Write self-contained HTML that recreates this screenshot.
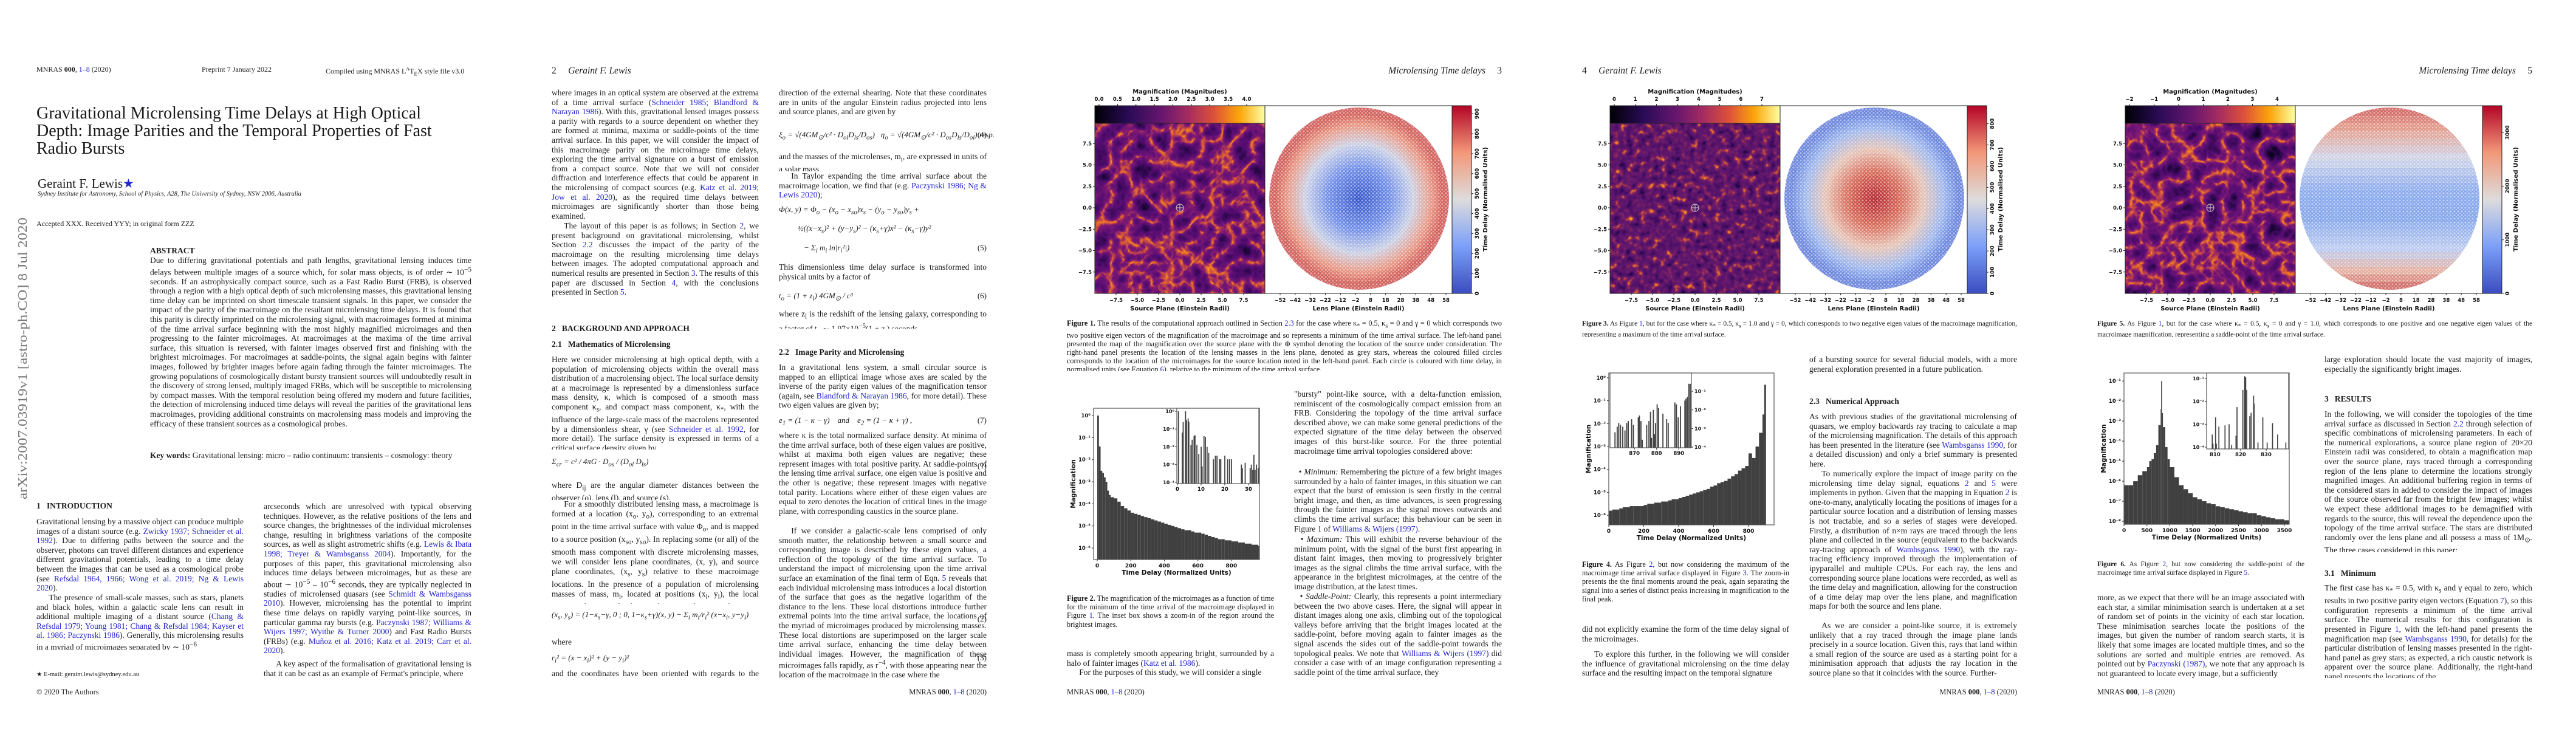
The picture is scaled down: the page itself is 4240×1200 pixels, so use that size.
<!DOCTYPE html>
<html><head><meta charset="utf-8">
<style>
html,body{margin:0;padding:0;background:#fff;}
body{width:4240px;height:1200px;position:relative;overflow:hidden;font-family:"Liberation Serif",serif;color:#1a1a1a;}
.page{position:absolute;top:0;width:848px;height:1200px;}
.t{position:absolute;font-size:13.5px;line-height:15.6px;text-align:justify;overflow:hidden;hyphens:auto;}
.cap{position:absolute;font-size:12.2px;line-height:14.2px;text-align:justify;overflow:hidden;}
.cap2{font-size:11.4px;}
.h{position:absolute;font-size:13.5px;line-height:16px;white-space:nowrap;}
.eq{position:absolute;font-size:13px;line-height:16px;white-space:nowrap;font-style:italic;}
.num{position:absolute;right:72px;font-size:13px;}
.hd{position:absolute;top:108px;font-size:15.5px;font-style:italic;white-space:nowrap;}
.ft{position:absolute;top:1132px;font-size:12.5px;white-space:nowrap;}
.ind{text-indent:1.5em;}
a,.l{color:#2323d0;text-decoration:none;}
svg.ov{position:absolute;left:0;top:0;width:848px;height:1200px;}
svg text{font-family:"DejaVu Sans",sans-serif;font-weight:bold;}
</style></head>
<body>

<!-- PAGE 1 -->
<div class="page" style="left:0">
 <svg style="position:absolute;left:0;top:0" width="60" height="900">
  <text x="0" y="0" transform="translate(44,822) rotate(-90)" textLength="464" lengthAdjust="spacingAndGlyphs" style="font-family:'Liberation Serif',serif;font-weight:normal;font-size:21px;fill:#777">arXiv:2007.03919v1  [astro-ph.CO]  8 Jul 2020</text>
 </svg>
 <div class="h" style="top:106px;left:60px;font-size:12px">MNRAS <b>000</b>, <span class="l">1–8</span> (2020)</div>
 <div class="h" style="top:106px;left:332px;font-size:12px">Preprint 7 January 2022</div>
 <div class="h" style="top:106px;left:536px;font-size:12px">Compiled using MNRAS L<sup style="font-size:8px">A</sup>T<sub style="font-size:9px">E</sub>X style file v3.0</div>
 <div style="position:absolute;top:172px;left:60px;width:760px;font-size:28px;line-height:29px;white-space:nowrap">Gravitational Microlensing Time Delays at High Optical<br>Depth: Image Parities and the Temporal Properties of Fast<br>Radio Bursts</div>
 <div class="h" style="top:290px;left:62px;font-size:21px;line-height:24px">Geraint F. Lewis<span style="color:#2323d0">★</span></div>
 <div class="h" style="top:312px;left:62px;font-size:10.5px;font-style:italic">Sydney Institute for Astronomy, School of Physics, A28, The University of Sydney, NSW 2006, Australia</div>
 <div class="h" style="top:360px;left:60px;font-size:12px">Accepted XXX. Received YYY; in original form ZZZ</div>
 <div class="h" style="top:405px;left:247px;font-weight:bold">ABSTRACT</div>
 <div class="t" style="top:421px;left:247px;width:529px;height:312px">Due to differing gravitational potentials and path lengths, gravitational lensing induces time delays between multiple images of a source which, for solar mass objects, is of order ∼ 10<sup>−5</sup> seconds. If an astrophysically compact source, such as a Fast Radio Burst (FRB), is observed through a region with a high optical depth of such microlensing masses, this gravitational lensing time delay can be imprinted on short timescale transient signals. In this paper, we consider the impact of the parity of the macroimage on the resultant microlensing time delays. It is found that this parity is directly imprinted on the microlensing signal, with macroimages formed at minima of the time arrival surface beginning with the most highly magnified microimages and then progressing to the fainter microimages. At macroimages at the maxima of the time arrival surface, this situation is reversed, with fainter images observed first and finishing with the brightest microimages. For macroimages at saddle-points, the signal again begins with fainter images, followed by brighter images before again fading through the fainter microimages. The growing populations of cosmologically distant bursty transient sources will undoubtedly result in the discovery of strong lensed, multiply imaged FRBs, which will be susceptible to microlensing by compact masses. With the temporal resolution being offered my modern and future facilities, the detection of microlensing induced time delays will reveal the parities of the gravitational lens macroimages, providing additional constraints on macrolensing mass models and improving the efficacy of these transient sources as a cosmological probes.</div>
 <div class="t" style="top:742px;left:247px;width:529px;height:32px;text-align:left"><b>Key words:</b> Gravitational lensing: micro – radio continuum: transients – cosmology: theory</div>
 <div class="h" style="top:825px;left:60px;font-weight:bold">1&nbsp;&nbsp;&nbsp;INTRODUCTION</div>
 <div class="t" style="top:851px;left:60px;width:341px;height:125px">Gravitational lensing by a massive object can produce multiple images of a distant source (e.g. <span class="l">Zwicky 1937; Schneider et al. 1992</span>). Due to differing paths between the source and the observer, photons can travel different distances and experience different gravitational potentials, leading to a time delay between the images that can be used as a cosmological probe (see <span class="l">Refsdal 1964, 1966; Wong et al. 2019; Ng &amp; Lewis 2020</span>).</div>
 <div class="t ind" style="top:976px;left:60px;width:341px;height:94px">The presence of small-scale masses, such as stars, planets and black holes, within a galactic scale lens can result in additional multiple imaging of a distant source (<span class="l">Chang &amp; Refsdal 1979; Young 1981; Chang &amp; Refsdal 1984; Kayser et al. 1986; Paczynski 1986</span>). Generally, this microlensing results in a myriad of microimages separated by ∼ 10<sup>−6</sup></div>
 <div class="h" style="top:1103px;left:60px;font-size:10.5px">★ E-mail: geraint.lewis@sydney.edu.au</div>
 <div class="t" style="top:826px;left:434px;width:342px;height:250px">arcseconds which are unresolved with typical observing techniques. However, as the relative positions of the lens and source changes, the brightnesses of the individual microlenses change, resulting in brightness variations of the composite sources, as well as slight astrometric shifts (e.g. <span class="l">Lewis &amp; Ibata 1998; Treyer &amp; Wambsganss 2004</span>). Importantly, for the purposes of this paper, this gravitational microlensing also induces time delays between microimages, but as these are about ∼ 10<sup>−5</sup> – 10<sup>−6</sup> seconds, they are typically neglected in studies of microlensed quasars (see <span class="l">Schmidt &amp; Wambsganss 2010</span>). However, microlensing has the potential to imprint these time delays on rapidly varying point-like sources, in particular gamma ray bursts (e.g. <span class="l">Paczynski 1987; Williams &amp; Wijers 1997; Wyithe &amp; Turner 2000</span>) and Fast Radio Bursts (FRBs) (e.g. <span class="l">Muñoz et al. 2016; Katz et al. 2019; Carr et al. 2020</span>).</div>
 <div class="t ind" style="top:1085px;left:434px;width:342px;height:32px">A key aspect of the formalisation of gravitational lensing is that it can be cast as an example of Fermat's principle, where</div>
 <div class="ft" style="left:60px">© 2020 The Authors</div>
</div>

<!-- PAGE 2 -->
<div class="page" style="left:848px">
 <div class="hd" style="left:60px"><span style="font-style:normal">2</span>&nbsp;&nbsp;&nbsp;&nbsp;&nbsp;Geraint F. Lewis</div>
 <div class="t" style="top:145px;left:60px;width:341px;height:218px">where images in an optical system are observed at the extrema of a time arrival surface (<span class="l">Schneider 1985; Blandford &amp; Narayan 1986</span>). With this, gravitational lensed images possess a parity with regards to a source dependent on whether they are formed at minima, maxima or saddle-points of the time arrival surface. In this paper, we will consider the impact of this macroimage parity on the microimage time delays, exploring the time arrival signature on a burst of emission from a compact source. Note that we will not consider diffraction and interference effects that could be apparent in the microlensing of compact sources (e.g. <span class="l">Katz et al. 2019; Jow et al. 2020</span>), as the required time delays between microimages are significantly shorter than those being examined.</div>
 <div class="t ind" style="top:364px;left:60px;width:341px;height:125px">The layout of this paper is as follows; in Section <span class="l">2</span>, we present background on gravitational microlensing, whilst Section <span class="l">2.2</span> discusses the impact of the parity of the macroimage on the resulting microlensing time delays between images. The adopted computational approach and numerical results are presented in Section <span class="l">3</span>. The results of this paper are discussed in Section <span class="l">4</span>, with the conclusions presented in Section <span class="l">5</span>.</div>
 <div class="h" style="top:533px;left:60px;font-weight:bold">2&nbsp;&nbsp;&nbsp;BACKGROUND AND APPROACH</div>
 <div class="h" style="top:559px;left:60px;font-weight:bold">2.1&nbsp;&nbsp;&nbsp;Mathematics of Microlensing</div>
 <div class="t" style="top:584px;left:60px;width:341px;height:156px">Here we consider microlensing at high optical depth, with a population of microlensing objects within the overall mass distribution of a macrolensing object. The local surface density at a macroimage is represented by a dimensionless surface mass density, κ, which is composed of a smooth mass component κ<sub>s</sub>, and compact mass component, κ<sub>*</sub>, with the influence of the large-scale mass of the macrolens represented by a dimensionless shear, γ (see <span class="l">Schneider et al. 1992</span>, for more detail). The surface density is expressed in terms of a critical surface density given by</div>
 <div class="eq" style="top:752px;left:60px">Σ<sub>cr</sub> = c² / 4πG · D<sub>os</sub> / (D<sub>ol</sub> D<sub>ls</sub>)</div><div class="num" style="top:759px">(1)</div>
 <div class="t" style="top:791px;left:60px;width:341px;height:32px">where D<sub>ij</sub> are the angular diameter distances between the observer (o), lens (l), and source (s).</div>
 <div class="t ind" style="top:822px;left:60px;width:341px;height:172px">For a smoothly distributed lensing mass, a macroimage is formed at a location (x<sub>o</sub>, y<sub>o</sub>), corresponding to an extremal point in the time arrival surface with value Φ<sub>o</sub>, and is mapped to a source position (x<sub>so</sub>, y<sub>so</sub>). In replacing some (or all) of the smooth mass component with discrete microlensing masses, we will consider lens plane coordinates, (x, y), and source plane coordinates, (x<sub>s</sub>, y<sub>s</sub>) relative to these macroimage locations. In the presence of a population of microlensing masses of mass, m<sub>i</sub>, located at positions (x<sub>i</sub>, y<sub>i</sub>), the local mapping between the lens and source plane coordinates is given by</div>
 <div class="eq" style="top:1004px;left:60px;font-size:13px">(x<sub>s</sub>, y<sub>s</sub>) = (1−κ<sub>s</sub>−γ, 0 ; 0, 1−κ<sub>s</sub>+γ)(x, y) − Σ<sub>i</sub> m<sub>i</sub>/r<sub>i</sub>² (x−x<sub>i</sub>, y−y<sub>i</sub>)</div><div class="num" style="top:1011px">(2)</div>
 <div class="t" style="top:1049px;left:60px;width:341px;height:16px">where</div>
 <div class="eq" style="top:1075px;left:60px">r<sub>i</sub>² = (x − x<sub>i</sub>)² + (y − y<sub>i</sub>)²</div><div class="num" style="top:1075px">(3)</div>
 <div class="t" style="top:1101px;left:60px;width:341px;height:16px">and the coordinates have been oriented with regards to the direction</div>

 <div class="t" style="top:145px;left:434px;width:342px;height:47px">direction of the external shearing. Note that these coordinates are in units of the angular Einstein radius projected into lens and source planes, and are given by</div>
 <div class="eq" style="top:214px;left:434px">ξ<sub>o</sub> = √(4GM<sub>⊙</sub>/c² · D<sub>ol</sub>D<sub>ls</sub>/D<sub>os</sub>)&nbsp;&nbsp;&nbsp;η<sub>o</sub> = √(4GM<sub>⊙</sub>/c² · D<sub>os</sub>D<sub>ls</sub>/D<sub>ol</sub>)&nbsp;resp.</div><div class="num" style="top:214px;font-style:normal">(4)</div>
 <div class="t" style="top:250px;left:434px;width:342px;height:32px">and the masses of the microlenses, m<sub>i</sub>, are expressed in units of a solar mass.</div>
 <div class="t ind" style="top:282px;left:434px;width:342px;height:47px">In Taylor expanding the time arrival surface about the macroimage location, we find that (e.g. <span class="l">Paczynski 1986; Ng &amp; Lewis 2020</span>);</div>
 <div class="eq" style="top:337px;left:434px">Φ(x, y) = Φ<sub>o</sub> − (x<sub>o</sub> − x<sub>so</sub>)x<sub>s</sub> − (y<sub>o</sub> − y<sub>so</sub>)y<sub>s</sub> +</div>
 <div class="eq" style="top:368px;left:465px">½((x−x<sub>s</sub>)² + (y−y<sub>s</sub>)² − (κ<sub>s</sub>+γ)x² − (κ<sub>s</sub>−γ)y²</div>
 <div class="eq" style="top:400px;left:475px">− Σ<sub>i</sub> m<sub>i</sub> ln|r<sub>i</sub>²|)</div><div class="num" style="top:400px">(5)</div>
 <div class="t" style="top:432px;left:434px;width:342px;height:32px">This dimensionless time delay surface is transformed into physical units by a factor of</div>
 <div class="eq" style="top:479px;left:434px">t<sub>o</sub> = (1 + z<sub>l</sub>) 4GM<sub>⊙</sub> / c³</div><div class="num" style="top:479px">(6)</div>
 <div class="t" style="top:509px;left:434px;width:342px;height:32px">where z<sub>l</sub> is the redshift of the lensing galaxy, corresponding to a factor of t<sub>o</sub> ∼ 1.97×10<sup>−5</sup>(1 + z<sub>l</sub>) seconds.</div>
 <div class="h" style="top:572px;left:434px;font-weight:bold">2.2&nbsp;&nbsp;&nbsp;Image Parity and Microlensing</div>
 <div class="t" style="top:597px;left:434px;width:342px;height:78px">In a gravitational lens system, a small circular source is mapped to an elliptical image whose axes are scaled by the inverse of the parity eigen values of the magnification tensor (again, see <span class="l">Blandford &amp; Narayan 1986</span>, for more detail). These two eigen values are given by;</div>
 <div class="eq" style="top:684px;left:434px">e<sub>1</sub> = (1 − κ − γ)&nbsp;&nbsp;&nbsp;&nbsp;and&nbsp;&nbsp;&nbsp;&nbsp;e<sub>2</sub> = (1 − κ + γ) ,</div><div class="num" style="top:684px">(7)</div>
 <div class="t" style="top:709px;left:434px;width:342px;height:156px">where κ is the total normalized surface density. At minima of the time arrival surface, both of these eigen values are positive, whilst at maxima both eigen values are negative; these represent images with total positive parity. At saddle-points of the lensing time arrival surface, one eigen value is positive and the other is negative; these represent images with negative total parity. Locations where either of these eigen values are equal to zero denotes the location of critical lines in the image plane, with corresponding caustics in the source plane.</div>
 <div class="t ind" style="top:866px;left:434px;width:342px;height:250px">If we consider a galactic-scale lens comprised of only smooth matter, the relationship between a small source and corresponding image is described by these eigen values, a reflection of the topology of the time arrival surface. To understand the impact of microlensing upon the time arrival surface an examination of the final term of Eqn. <span class="l">5</span> reveals that each individual microlensing mass introduces a local distortion of the surface that goes as the negative logarithm of the distance to the lens. These local distortions introduce further extremal points into the time arrival surface, the locations of the myriad of microimages produced by microlensing masses. These local distortions are superimposed on the larger scale time arrival surface, enhancing the time delay between individual images. However, the magnification of these microimages falls rapidly, as r<sup>−4</sup>, with those appearing near the location of the macroimage in the case where the</div>
 <div class="ft" style="right:72px">MNRAS <b>000</b>, <span class="l">1–8</span> (2020)</div>
</div>

<!-- PAGE 3 -->
<div class="page" style="left:1696px">
 <div class="hd" style="right:72px">Microlensing Time delays&nbsp;&nbsp;&nbsp;&nbsp;&nbsp;<span style="font-style:normal">3</span></div>
 <svg class="ov" id="ov3"></svg>
 <div class="cap" style="top:525px;left:60px;width:716px;height:86px"><b>Figure 1.</b> The results of the computational approach outlined in Section <span class="l">2.3</span> for the case where κ<sub>*</sub> = 0.5, κ<sub>s</sub> = 0 and γ = 0 which corresponds two two positive eigen vectors of the magnification of the macroimage and so represents a minimum of the time arrival surface. The left-hand panel presented the map of the magnification over the source plane with the ⊕ symbol denoting the location of the source under consideration. The right-hand panel presents the location of the lensing masses in the lens plane, denoted as grey stars, whereas the coloured filled circles corresponds to the location of the microimages for the source location noted in the left-hand panel. Each circle is coloured with time delay, in normalised units (see Equation <span class="l">6</span>), relative to the minimum of the time arrival surface.</div>
 <div class="cap" style="top:978px;left:60px;width:341px;height:57px"><b>Figure 2.</b> The magnification of the microimages as a function of time for the minimum of the time arrival of the macroimage displayed in Figure <span class="l">1</span>. The inset box shows a zoom-in of the region around the brightest images.</div>
 <div class="t" style="top:1068px;left:60px;width:341px;height:47px">mass is completely smooth appearing bright, surrounded by a halo of fainter images (<span class="l">Katz et al. 1986</span>).<br><span style="padding-left:1.5em"></span>For the purposes of this study, we will consider a single</div>
 <div class="t" style="top:641px;left:434px;width:342px;height:110px">"bursty" point-like source, with a delta-function emission, reminiscent of the cosmologically compact emission from an FRB. Considering the topology of the time arrival surface described above, we can make some general predictions of the expected signature of the time delay between the observed images of this burst-like source. For the three potential macroimage time arrival topologies considered above:</div>
 <div class="t" style="top:769px;left:434px;width:342px;height:110px">&nbsp;&nbsp;• <i>Minimum:</i> Remembering the picture of a few bright images surrounded by a halo of fainter images, in this situation we can expect that the burst of emission is seen firstly in the central bright image, and then, as time advances, is seen progressing through the fainter images as the signal moves outwards and climbs the time arrival surface; this behaviour can be seen in Figure 1 of <span class="l">Williams &amp; Wijers (1997)</span>.</div>
 <div class="t" style="top:880px;left:434px;width:342px;height:94px">&nbsp;&nbsp;• <i>Maximum:</i> This will exhibit the reverse behaviour of the minimum point, with the signal of the burst first appearing in distant faint images, then moving to progressively brighter images as the signal climbs the time arrival surface, with the appearance in the brightest microimages, at the centre of the image distribution, at the latest times.</div>
 <div class="t" style="top:974px;left:434px;width:342px;height:141px">&nbsp;&nbsp;• <i>Saddle-Point:</i> Clearly, this represents a point intermediary between the two above cases. Here, the signal will appear in distant images along one axis, climbing out of the topological valleys before arriving that the bright images located at the saddle-point, before moving again to fainter images as the signal ascends the sides out of the saddle-point towards the topological peaks. We note that <span class="l">Williams &amp; Wijers (1997)</span> did consider a case with of an image configuration representing a saddle point of the time arrival surface, they</div>
 <div class="ft" style="left:60px">MNRAS <b>000</b>, <span class="l">1–8</span> (2020)</div>
</div>

<!-- PAGE 4 -->
<div class="page" style="left:2544px">
 <div class="hd" style="left:60px"><span style="font-style:normal">4</span>&nbsp;&nbsp;&nbsp;&nbsp;&nbsp;Geraint F. Lewis</div>
 <svg class="ov" id="ov4"></svg>
 <div class="cap cap2" style="top:526px;left:60px;width:716px;height:29px"><b>Figure 3.</b> As Figure <span class="l">1</span>, but for the case where κ<sub>*</sub> = 0.5, κ<sub>s</sub> = 1.0 and γ = 0, which corresponds to two negative eigen values of the macroimage magnification, representing a maximum of the time arrival surface.</div>
 <div class="cap" style="top:922px;left:60px;width:341px;height:72px"><b>Figure 4.</b> As Figure <span class="l">2</span>, but now considering the maximum of the macroimage time arrival surface displayed in Figure <span class="l">3</span>. The zoom-in presents the the final moments around the peak, again separating the signal into a series of distinct peaks increasing in magnification to the final peak.</div>
 <div class="t" style="top:1028px;left:60px;width:341px;height:32px">did not explicitly examine the form of the time delay signal of the microimages.</div>
 <div class="t ind" style="top:1069px;left:60px;width:341px;height:47px">To explore this further, in the following we will consider the influence of gravitational microlensing on the time delay surface and the resulting impact on the temporal signature</div>
 <div class="t" style="top:584px;left:434px;width:342px;height:32px">of a bursting source for several fiducial models, with a more general exploration presented in a future publication.</div>
 <div class="h" style="top:653px;left:434px;font-weight:bold">2.3&nbsp;&nbsp;&nbsp;Numerical Approach</div>
 <div class="t" style="top:678px;left:434px;width:342px;height:94px">As with previous studies of the gravitational microlensing of quasars, we employ backwards ray tracing to calculate a map of the microlensing magnification. The details of this approach has been presented in the literature (see <span class="l">Wambsganss 1990</span>, for a detailed discussion) and only a brief summary is presented here.</div>
 <div class="t ind" style="top:772px;left:434px;width:342px;height:250px">To numerically explore the impact of image parity on the microlensing time delay signal, equations <span class="l">2</span> and <span class="l">5</span> were implements in python. Given that the mapping in Equation <span class="l">2</span> is one-to-many, analytically locating the positions of images for a particular source location and a distribution of lensing masses is not tractable, and so a series of stages were developed. Firstly, a distribution of n×m rays are traced through the lens plane and collected in the source (equivalent to the backwards ray-tracing approach of <span class="l">Wambsganss 1990</span>), with the ray-tracing efficiency improved through the implementation of ipyparallel and multiple CPUs. For each ray, the lens and corresponding source plane locations were recorded, as well as the time delay and magnification, allowing for the construction of a time delay map over the lens plane, and magnification maps for both the source and lens plane.</div>
 <div class="t ind" style="top:1022px;left:434px;width:342px;height:94px">As we are consider a point-like source, it is extremely unlikely that a ray traced through the image plane lands precisely in a source location. Given this, rays that land within a small region of the source are used as a starting point for a minimisation approach that adjusts the ray location in the source plane so that it coincides with the source. Further-</div>
 <div class="ft" style="right:72px">MNRAS <b>000</b>, <span class="l">1–8</span> (2020)</div>
</div>

<!-- PAGE 5 -->
<div class="page" style="left:3392px">
 <div class="hd" style="right:72px">Microlensing Time delays&nbsp;&nbsp;&nbsp;&nbsp;&nbsp;<span style="font-style:normal">5</span></div>
 <svg class="ov" id="ov5"></svg>
 <div class="cap cap2" style="top:526px;left:60px;width:716px;height:29px"><b>Figure 5.</b> As Figure <span class="l">1</span>, but for the case where κ<sub>*</sub> = 0.5, κ<sub>s</sub> = 0 and γ = 1.0, which corresponds to one positive and one negative eigen values of the macroimage magnification, representing a saddle-point of the time arrival surface.</div>
 <div class="cap cap2" style="top:922px;left:60px;width:341px;height:29px"><b>Figure 6.</b> As Figure <span class="l">2</span>, but now considering the saddle-point of the macroimage time arrival surface displayed in Figure <span class="l">5</span>.</div>
 <div class="t" style="top:976px;left:60px;width:341px;height:141px">more, as we expect that there will be an image associated with each star, a similar minimisation search is undertaken at a set of random set of points in the vicinity of each star location. These minimisation searches locate the positions of the images, but given the number of random search starts, it is likely that some images are located multiple times, and so the solutions are sorted and multiple entries are removed. As pointed out by <span class="l">Paczynski (1987)</span>, we note that any approach is not guaranteed to locate every image, but a sufficiently</div>
 <div class="t" style="top:584px;left:434px;width:342px;height:32px">large exploration should locate the vast majority of images, especially the significantly bright images.</div>
 <div class="h" style="top:649px;left:434px;font-weight:bold">3&nbsp;&nbsp;&nbsp;RESULTS</div>
 <div class="t" style="top:674px;left:434px;width:342px;height:235px">In the following, we will consider the topologies of the time arrival surface as discussed in Section <span class="l">2.2</span> through selection of specific combinations of microlensing parameters. In each of the numerical explorations, a source plane region of 20×20 Einstein radii was considered, to obtain a magnification map over the source plane, rays traced through a corresponding region of the lens plane to determine the locations strongly magnified images. An additional buffering region in terms of the considered stars in added to consider the impact of images of the source observed far from the bright few images; whilst we expect these additional images to be demagnified with regards to the source, this will reveal the dependence upon the topology of the time arrival surface. The stars are distributed randomly over the lens plane and all possess a mass of 1M<sub>⊙</sub>. The three cases considered in this paper:</div>
 <div class="h" style="top:936px;left:434px;font-weight:bold">3.1&nbsp;&nbsp;&nbsp;Minimum</div>
 <div class="t" style="top:960px;left:434px;width:342px;height:156px">The first case has κ<sub>*</sub> = 0.5, with κ<sub>s</sub> and γ equal to zero, which results in two positive parity eigen vectors (Equation <span class="l">7</span>), so this configuration represents a minimum of the time arrival surface. The numerical results for this configuration is presented in Figure <span class="l">1</span>, with the left-hand panel presents the magnification map (see <span class="l">Wambsganss 1990</span>, for details) for the particular distribution of lensing masses presented in the right-hand panel as grey stars; as expected, a rich caustic network is apparent over the source plane. Additionally, the right-hand panel presents the locations of the</div>
 <div class="ft" style="left:60px">MNRAS <b>000</b>, <span class="l">1–8</span> (2020)</div>
</div>

<script>
// ---------- histogram data (time delay, log10 magnification) ----------
const fig2Times = [0,10,20,30,40,50,60,70,80,100,120,140,160,180,200,220,240,260,280,300,320,340,360,380,400,420,440,460,480,500,520,540,560,580,600,620,640,660,680,700,720,740,760,780,800,820,840,860,880,900,920,940,960];
const fig2LogMag = [0.0,-1.4,-2.5,-2.6,-2.8,-3.0,-3.4,-3.6,-3.7,-3.75,-3.9,-4.1,-4.2,-4.3,-4.4,-4.45,-4.5,-4.55,-4.6,-4.65,-4.7,-4.75,-4.8,-4.85,-4.9,-4.95,-5.0,-5.05,-5.1,-5.15,-5.2,-5.2,-5.25,-5.3,-5.3,-5.35,-5.4,-5.45,-5.5,-5.55,-5.6,-5.6,-5.65,-5.65,-5.7,-5.7,-5.75,-5.75,-5.8,-5.8,-5.85,-5.85,-5.9];
const fig2InsetTimes = [0.2,1.8,2.2,3.2,3.6,4.3,4.6,5.5,6,6.8,7.2,8,8.8,9.8,10.2,11,11.6,12.3,13,15,15.8,16.5,17.6,18.1,19.8,21,21.8,22.6,26.8,27.2,28.4,30.5,31,31.6,32.1,32.6,33.2,33.9];
const fig2InsetLogMag = [0.0,-1.2,-0.6,0.0,-0.5,-0.4,-0.6,-1.9,-1.6,-1.4,-1.35,-1.9,-2.4,-2.0,-3.1,-1.4,-1.45,-2.0,-2.35,-2.7,-2.5,-2.5,-2.7,-2.7,-2.5,-2.7,-2.7,-2.7,-3.0,-3.2,-2.9,-3.2,-3.0,-3.3,-2.45,-3.3,-3.0,-3.2];

const fig4Times = [0,20,40,60,80,100,120,140,160,180,200,220,240,260,280,300,320,340,360,380,400,420,440,460,480,500,520,540,560,580,600,620,640,660,680,700,720,740,760,780,800,820,840,860,880,890,900];
const fig4LogMag = [-5.8,-5.75,-5.75,-5.7,-5.65,-5.65,-5.6,-5.6,-5.6,-5.6,-5.55,-5.5,-5.5,-5.45,-5.45,-5.4,-5.4,-5.35,-5.3,-5.3,-5.25,-5.2,-5.15,-5.1,-5.05,-5.0,-4.95,-4.9,-4.85,-4.75,-4.7,-4.6,-4.55,-4.5,-4.4,-4.3,-4.2,-4.05,-3.95,-3.85,-3.3,-3.5,-3.0,-2.4,-1.6,-0.3];
const fig4InsetTimes = [861,862,862.7,863.5,864.5,865.5,866.3,867,868.5,869.3,871.5,872,872.7,873.3,875.3,876.3,877,877.5,878.3,878.8,879.3,880,880.6,882.6,884.3,885,888,888.7,889.5,890.5,892.5,893,893.6,894.3,894.9];
const fig4InsetLogMag = [-3.2,-2.9,-2.7,-2.8,-2.9,-3.1,-2.7,-2.6,-2.5,-2.8,-2.4,-2.3,-2.6,-3.6,-2.8,-2.6,-2.1,-3.5,-2.0,-3.3,-2.7,-1.7,-1.9,-2.2,-2.5,-2.7,-1.6,-1.7,-2.4,-1.8,-1.5,-1.4,-1.3,-0.6,-0.6];

const fig6Times = [0,100,200,300,400,500,550,600,650,700,750,800,810,830,850,900,950,1000,1100,1200,1300,1400,1500,1600,1700,1800,1900,2000,2100,2200,2300,2400,2500,2600,2700,2800,2900,3000,3100,3200,3300,3400,3500,3600];
const fig6LogMag = [-6.2,-6.2,-6.0,-5.7,-5.5,-5.3,-5.0,-4.9,-4.6,-4.2,-3.2,-2.4,-1.0,-2.6,-3.3,-4.3,-4.9,-5.3,-5.8,-6.2,-6.4,-6.6,-6.8,-6.9,-7.0,-7.1,-7.15,-7.25,-7.3,-7.35,-7.4,-7.45,-7.5,-7.55,-7.6,-7.6,-7.7,-7.75,-7.8,-7.85,-7.9,-7.9,-7.95];
const fig6InsetTimes = [808.7,809,810,810.3,811.3,813.7,815.3,816.3,818,818.4,820.7,821.4,821.8,822.2,823.4,823.9,824.9,825.1,826.6,828.5,830.2,832.3,834.3,837.5];
const fig6InsetLogMag = [-3.45,-3.85,-2.7,-3.85,-3.1,-3.05,-3.0,-3.9,-3.5,-2.25,-1.5,-0.9,-0.95,-1.5,-2.65,-2.5,-1.75,-2.1,-3.8,-2.7,-3.8,-2.95,-3.45,-3.8];

// map colourbar tick labels
const fig1MagTicks = ["0.0","0.5","1.0","1.5","2.0","2.5","3.0","3.5","4.0"];
const fig3MagTicks = ["0","1","2","3","4","5","6","7"];
const fig5MagTicks = ["−2","−1","0","1","2","3","4"];
const fig1DelayTicks = [0,100,200,300,400,500,600,700,800,900];
const fig3DelayTicks = [0,100,200,300,400,500,600,700,800];
const fig5DelayTicks = [0,1000,2000,3000];
const sourceTicks = ["−7.5","−5.0","−2.5","0.0","2.5","5.0","7.5"];
const sourceTickVals = [-7.5,-5,-2.5,0,2.5,5,7.5];
const lensTicks = [-52,-42,-32,-22,-12,-2,8,18,28,38,48,58];

const NS = "http://www.w3.org/2000/svg";
function el(parent, tag, attrs, text){
  const e = document.createElementNS(NS, tag);
  for (const k in attrs) e.setAttribute(k, attrs[k]);
  if (text !== undefined) e.textContent = text;
  parent.appendChild(e);
  return e;
}
function linScale(d0,d1,r0,r1){ return v => r0 + (v-d0)/(d1-d0)*(r1-r0); }
const supMap = {"-":"⁻","0":"⁰","1":"¹","2":"²","3":"³","4":"⁴","5":"⁵","6":"⁶","7":"⁷","8":"⁸"};
function pow10(n){ return "10" + String(n).split("").map(c=>supMap[c]).join(""); }
function hex2rgb(h){ return [parseInt(h.substr(1,2),16),parseInt(h.substr(3,2),16),parseInt(h.substr(5,2),16)]; }
function colorAt(stops, f){
  for (let i=0;i<stops.length-1;i++){
    if (f <= stops[i+1][0]){
      const a = hex2rgb(stops[i][1]), b = hex2rgb(stops[i+1][1]);
      const u = (f - stops[i][0])/((stops[i+1][0]-stops[i][0])||1);
      return "rgb("+a.map((v,k)=>Math.round(v+(b[k]-v)*u)).join(",")+")";
    }
  }
  return stops[stops.length-1][1];
}

function drawHist(svg, ax, times, vals, barW, fill){
  const sx = linScale(ax.d0, ax.d1, ax.x0, ax.x1);
  const sy = linScale(ax.l0, ax.l1, ax.y1, ax.y0);
  const g = el(svg, "g", {"clip-path":"url(#"+ax.clip+")"});
  
  
  for (let i=0;i<vals.length;i++){
    let w = barW ? barW : (times[i+1]!==undefined ? times[i+1]-times[i] : times[i]-times[i-1]);
    const xa = sx(times[i]), xb = sx(times[i]+w);
    const yt = sy(vals[i]);
    const r = el(g, "rect", {x:xa, y:yt, width:Math.max(0.8, xb-xa), height:Math.max(0, ax.y1-yt), fill:fill||"#404040"});
    
    
  }
  return {sx, sy};
}
function clipRect(svg, id, x, y, w, h){
  let defs = svg.querySelector("defs") || el(svg,"defs",{});
  const c = el(defs, "clipPath", {id:id});
  el(c, "rect", {x:x, y:y, width:w, height:h});
}
function axisFrame(svg, ax, name){
  const r = el(svg, "rect", {x:ax.x0, y:ax.y0, width:ax.x1-ax.x0, height:ax.y1-ax.y0, fill:"none", stroke:"#555", "stroke-width":1.2});
  
  
}
function histFigure(svg, main, inset, mainX, mainY, insX, insY, insetLabelSide, data){
  clipRect(svg, main.clip, main.x0, main.y0, main.x1-main.x0, main.y1-main.y0);
  clipRect(svg, inset.clip, inset.x0, inset.y0, inset.x1-inset.x0, inset.y1-inset.y0);
  const m = drawHist(svg, main, data.t, data.v, null);
  mainX.forEach(v => {
    const x = m.sx(v);
    el(svg,"line",{x1:x,x2:x,y1:main.y1,y2:main.y1+3,stroke:"#222"});
    const t = el(svg,"text",{x:x,y:main.y1+13,"font-size":9,"text-anchor":"middle",fill:"#111"}, String(v));
     
  });
  mainY.forEach(p => {
    const y = m.sy(p);
    el(svg,"line",{x1:main.x0-3,x2:main.x0,y1:y,y2:y,stroke:"#222"});
    const t = el(svg,"text",{x:main.x0-5,y:y+3,"font-size":8.5,"text-anchor":"end",fill:"#111"}, pow10(p));
     
  });
  axisFrame(svg, main, "main-axes-frame");
  const xl = el(svg,"text",{x:(main.x0+main.x1)/2,y:main.y1+25,"font-size":10.5,"text-anchor":"middle",fill:"#111"},"Time Delay (Normalized Units)");
   
  const yl = el(svg,"text",{x:0,y:0,"font-size":10.5,"text-anchor":"middle",fill:"#111",transform:"translate("+(main.x0-30)+","+((main.y0+main.y1)/2)+") rotate(-90)"},"Magnification");
   
  const bg = el(svg,"rect",{x:inset.x0,y:inset.y0,width:inset.x1-inset.x0,height:inset.y1-inset.y0,fill:"#fff"});
   
  const s = drawHist(svg, inset, data.it, data.iv, inset.bw);
  insX.forEach(v => {
    const x = s.sx(v);
    el(svg,"line",{x1:x,x2:x,y1:inset.y1,y2:inset.y1+3,stroke:"#222"});
    const t = el(svg,"text",{x:x,y:inset.y1+12,"font-size":8.5,"text-anchor":"middle",fill:"#111"}, String(v));
     
  });
  insY.forEach(p => {
    const y = s.sy(p);
    const right = insetLabelSide === "right";
    const xx = right ? inset.x1 : inset.x0;
    el(svg,"line",{x1:xx,x2:right?xx+3:xx-3,y1:y,y2:y,stroke:"#222"});
    const t = el(svg,"text",{x:right?xx+5:xx-4,y:y+3,"font-size":8,"text-anchor":right?"start":"end",fill:"#111"}, pow10(p));
     
  });
  axisFrame(svg, inset, "inset-axes-frame");
}

// ---------- magnification map + image scatter figure ----------
function mapFigure(svg, id, kind, magTicks, delayTicks, delayMax, scatterStops, scatterVertical){
  const defs = svg.querySelector("defs") || el(svg,"defs",{});
  defs.insertAdjacentHTML("beforeend",
   '<linearGradient id="inf'+id+'" x1="0" x2="1" y1="0" y2="0"><stop offset="0" stop-color="#000004"/><stop offset="0.2" stop-color="#2a0b57"/><stop offset="0.4" stop-color="#6a176e"/><stop offset="0.55" stop-color="#a52c60"/><stop offset="0.7" stop-color="#dd513a"/><stop offset="0.85" stop-color="#fca50a"/><stop offset="1" stop-color="#fcffa4"/></linearGradient>'+
   '<linearGradient id="cw'+id+'" x1="0" x2="0" y1="1" y2="0"><stop offset="0" stop-color="#3b4cc0"/><stop offset="0.25" stop-color="#7b9ff9"/><stop offset="0.5" stop-color="#dddcdc"/><stop offset="0.75" stop-color="#f39879"/><stop offset="1" stop-color="#b40426"/></linearGradient>'+
   '<pattern id="gap'+id+'" width="6" height="6" patternUnits="userSpaceOnUse"><circle cx="0" cy="0" r="1.6" fill="#fff"/><circle cx="6" cy="0" r="1.6" fill="#fff"/><circle cx="0" cy="6" r="1.6" fill="#fff"/><circle cx="6" cy="6" r="1.6" fill="#fff"/><circle cx="3" cy="3" r="1.1" fill="#fff"/></pattern>'+
   '<clipPath id="ec'+id+'"><ellipse cx="541" cy="327" rx="148" ry="150"/></clipPath>');
  let filt;
  if (kind === "web"){
    filt = '<filter id="f'+id+'" x="0" y="0" width="1" height="1" color-interpolation-filters="sRGB"><feTurbulence type="turbulence" baseFrequency="0.03" numOctaves="3" seed="'+(id*7+2)+'"/><feColorMatrix type="matrix" values="1 0 0 0 0 1 0 0 0 0 1 0 0 0 0 0 0 0 0 1"/><feComponentTransfer><feFuncR type="table" tableValues="1 0.8 0.5 0.4 0.33 0.26 0.18 0.1 0.06 0.03"/><feFuncG type="table" tableValues="0.6 0.3 0.1 0.07 0.05 0.04 0.03 0.02 0.01 0"/><feFuncB type="table" tableValues="0.1 0.25 0.45 0.46 0.44 0.38 0.3 0.2 0.12 0.08"/></feComponentTransfer></filter>';
  } else {
    filt = '<filter id="f'+id+'" x="0" y="0" width="1" height="1" color-interpolation-filters="sRGB"><feTurbulence type="fractalNoise" baseFrequency="0.09" numOctaves="2" seed="5"/><feColorMatrix type="matrix" values="1 0 0 0 0 1 0 0 0 0 1 0 0 0 0 0 0 0 0 1"/><feComponentTransfer><feFuncR type="table" tableValues="0.05 0.1 0.2 0.3 0.35 0.4 0.55 0.85 1 1"/><feFuncG type="table" tableValues="0 0.02 0.04 0.06 0.08 0.1 0.15 0.4 0.65 0.8"/><feFuncB type="table" tableValues="0.12 0.22 0.34 0.4 0.42 0.42 0.35 0.2 0.1 0.1"/></feComponentTransfer></filter>';
  }
  defs.insertAdjacentHTML("beforeend", filt);

  const X0=106, XM=386, X2=694, X3=726, Y0=174, YC=203, Y1=483;
  const lbl = el(svg,"text",{x:(X0+XM)/2,y:154,"font-size":10,"text-anchor":"middle",fill:"#111"},"Magnification (Magnitudes)");
   
  const cb = el(svg,"rect",{x:X0,y:Y0,width:XM-X0,height:YC-Y0,fill:"url(#inf"+id+")",stroke:"#222","stroke-width":1});
   
  const magX = linScale(0, magTicks.length-1, X0+7, XM-30);
  magTicks.forEach((t,i)=>{
    const x = magX(i);
    el(svg,"line",{x1:x,x2:x,y1:Y0-3,y2:Y0,stroke:"#222"});
    const tt = el(svg,"text",{x:x,y:166,"font-size":8.5,"text-anchor":"middle",fill:"#111"},t);
     
  });
  el(svg,"rect",{x:X0,y:YC,width:XM-X0,height:Y1-YC,fill:"#3a0f66"});
  const mp = el(svg,"rect",{x:X0,y:YC,width:XM-X0,height:Y1-YC,filter:"url(#f"+id+")"});
   
  el(svg,"rect",{x:X0,y:YC,width:XM-X0,height:Y1-YC,fill:"none",stroke:"#222"});
  const mk = el(svg,"g",{stroke:"#bbb","stroke-width":1.2,fill:"none"});
   
  el(mk,"circle",{cx:246,cy:342,r:6}); el(mk,"line",{x1:240,x2:252,y1:342,y2:342}); el(mk,"line",{x1:246,x2:246,y1:336,y2:348});
  const sX = linScale(-10,10,X0,XM);
  sourceTickVals.forEach((v,i)=>{
    el(svg,"line",{x1:sX(v),x2:sX(v),y1:Y1,y2:Y1+3,stroke:"#222"});
    const tt = el(svg,"text",{x:sX(v),y:Y1+14,"font-size":8.5,"text-anchor":"middle",fill:"#111"},sourceTicks[i]);
     
    const yy = 342 - v*14.1;
    el(svg,"line",{x1:X0-3,x2:X0,y1:yy,y2:yy,stroke:"#222"});
    const ty = el(svg,"text",{x:X0-5,y:yy+3,"font-size":8.5,"text-anchor":"end",fill:"#111"},sourceTicks[i]);
     
  });
  const sl = el(svg,"text",{x:(X0+XM)/2,y:Y1+28,"font-size":10,"text-anchor":"middle",fill:"#111"},"Source Plane (Einstein Radii)");
   
  el(svg,"rect",{x:XM,y:Y0,width:X2-XM,height:Y1-Y0,fill:"#fff",stroke:"#222"});
  const cloud = el(svg,"g",{"clip-path":"url(#ec"+id+")","fill-opacity":0.88});
  
  
  const N = 24;
  if (scatterVertical){
    for (let i=0;i<N;i++){
      const f0 = i/N;
      el(cloud,"rect",{x:390,y:177+f0*300,width:302,height:300/N+1,fill:colorAt(scatterStops,(i+0.5)/N)});
    }
  } else {
    for (let i=0;i<N;i++){
      const f = 1 - i/N;
      el(cloud,"ellipse",{cx:541,cy:327,rx:148*f,ry:150*f,fill:colorAt(scatterStops,f-0.5/N)});
    }
  }
  el(cloud,"rect",{x:390,y:175,width:302,height:306,fill:"url(#gap"+id+")","fill-opacity":0.45});
  const lX = linScale(-52,58,411,684);
  lensTicks.forEach(v=>{
    el(svg,"line",{x1:lX(v),x2:lX(v),y1:Y1,y2:Y1+3,stroke:"#222"});
    const tt = el(svg,"text",{x:lX(v),y:Y1+14,"font-size":8.5,"text-anchor":"middle",fill:"#111"},String(v).replace("-","−"));
     
  });
  const ll = el(svg,"text",{x:540,y:Y1+28,"font-size":10,"text-anchor":"middle",fill:"#111"},"Lens Plane (Einstein Radii)");
   
  const dc = el(svg,"rect",{x:X2,y:Y0,width:X3-X2,height:Y1-Y0,fill:"url(#cw"+id+")",stroke:"#222"});
   
  const dY = linScale(0, delayMax, Y1, Y0);
  delayTicks.forEach(v=>{
    const y = dY(v);
    el(svg,"line",{x1:X3,x2:X3+3,y1:y,y2:y,stroke:"#222"});
    const tt = el(svg,"text",{x:0,y:0,"font-size":8.5,"text-anchor":"middle",fill:"#111",transform:"translate("+(X3+12)+","+y+") rotate(-90)"},String(v));
     
  });
  const dl = el(svg,"text",{x:0,y:0,"font-size":10,"text-anchor":"middle",fill:"#111",transform:"translate("+(X3+26)+",328) rotate(-90)"},"Time Delay (Normalised Units)");
   
}

const ov3 = document.getElementById("ov3");
mapFigure(ov3, 1, "web", fig1MagTicks, fig1DelayTicks, 940,
  [[0,"#3553c8"],[0.35,"#6f8ee8"],[0.6,"#c9d0e6"],[0.8,"#e99a86"],[1,"#c74545"]], false);
histFigure(ov3,
  {x0:104,x1:377,y0:672,y1:921,d0:-21.7,d1:967,l0:-6.52,l1:0.33,clip:"c2m",name:"figure-2-main"},
  {x0:241,x1:376,y0:672,y1:796,d0:-0.26,d1:34.4,l0:-4.07,l1:0.17,clip:"c2i",name:"figure-2-inset",bw:0.45},
  [0,200,400,600,800],[0,-1,-2,-3,-4,-5,-6],[0,10,20,30],[0,-1,-2,-3,-4],"left",
  {t:fig2Times,v:fig2LogMag,it:fig2InsetTimes,iv:fig2InsetLogMag});

const ov4 = document.getElementById("ov4");
mapFigure(ov4, 3, "dots", fig3MagTicks, fig3DelayTicks, 885,
  [[0,"#b3242f"],[0.3,"#d66a58"],[0.55,"#e6c3b5"],[0.78,"#9cb6ee"],[1,"#5673d6"]], false);
histFigure(ov4,
  {x0:104,x1:376,y0:614,y1:864,d0:0,d1:946,l0:-6.42,l1:0.21,clip:"c4m",name:"figure-4-main"},
  {x0:106,x1:240,y0:614,y1:737,d0:859,d1:895.7,l0:-4.03,l1:-0.02,clip:"c4i",name:"figure-4-inset",bw:0.5},
  [0,200,400,600,800],[0,-1,-2,-3,-4,-5,-6],[870,880,890],[-1,-2,-3,-4],"right",
  {t:fig4Times,v:fig4LogMag,it:fig4InsetTimes,iv:fig4InsetLogMag});

const ov5 = document.getElementById("ov5");
mapFigure(ov5, 5, "web", fig5MagTicks, fig5DelayTicks, 3500,
  [[0,"#c94a48"],[0.12,"#e0917f"],[0.28,"#c7cfe6"],[0.45,"#7d9feb"],[0.6,"#7399e8"],[0.78,"#b3c4ee"],[0.9,"#e2a492"],[1,"#c24645"]], true);
histFigure(ov5,
  {x0:104,x1:376,y0:614,y1:863,d0:-1,d1:3608,l0:-8.15,l1:-0.6,clip:"c6m",name:"figure-6-main"},
  {x0:240,x1:375,y0:614,y1:739,d0:806.7,d1:838.8,l0:-4.08,l1:-0.76,clip:"c6i",name:"figure-6-inset",bw:0.4},
  [0,500,1000,1500,2000,2500,3000,3500],[-1,-2,-3,-4,-5,-6,-7,-8],[810,820,830],[-1,-2,-3,-4],"left",
  {t:fig6Times,v:fig6LogMag,it:fig6InsetTimes,iv:fig6InsetLogMag});
</script>
</body></html>
